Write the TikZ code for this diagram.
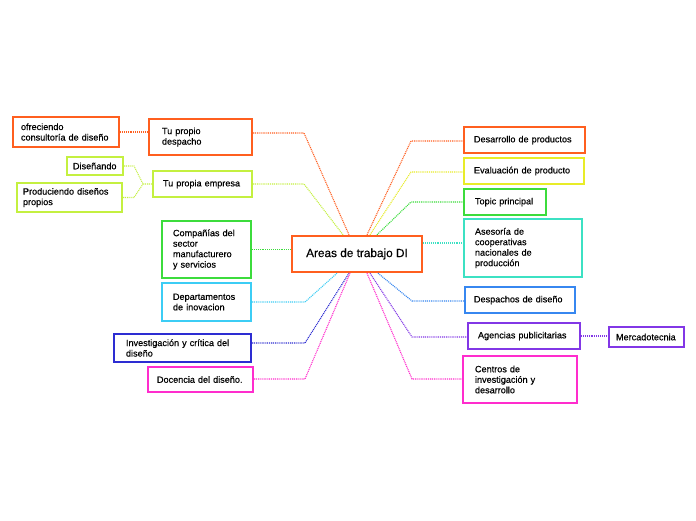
\documentclass[tikz,border=0pt]{standalone}
\usepackage{fontspec}
\setmainfont[FakeBold=0]{Liberation Sans}
\newfontfamily\boxfont[FakeBold=0.35]{Liberation Sans}
\definecolor{corange}{RGB}{255,95,31}
\definecolor{clime}{RGB}{196,240,64}
\definecolor{cyellow}{RGB}{232,236,40}
\definecolor{cgreen}{RGB}{60,220,60}
\definecolor{ccyan}{RGB}{60,205,245}
\definecolor{cteal}{RGB}{60,225,195}
\definecolor{cnavy}{RGB}{45,45,210}
\definecolor{cblue}{RGB}{55,135,240}
\definecolor{cpurple}{RGB}{130,55,230}
\definecolor{cmagenta}{RGB}{255,45,205}
\begin{document}
\begin{tikzpicture}[x=1pt,y=-1pt,
  box/.style={draw=#1, line width=2pt, rectangle, align=left, fill=white,
    font=\boxfont\fontsize{9.1}{10.5}\selectfont, inner ysep=0pt},
  link/.style={draw=#1, line width=1.1pt, dash pattern=on 1pt off 0.9pt}]
\fill[white] (0,0) rectangle (696,520);
\useasboundingbox (0,0) rectangle (696,520);

% central node
\node[draw=corange, line width=2.4pt, fill=white, minimum width=130pt, minimum height=36pt,
  font=\boxfont\fontsize{11.8}{13}\selectfont, inner sep=0pt] (c) at (357,254) {Areas de trabajo DI};

% left side
\node[box=corange, minimum width=103pt, minimum height=36pt, inner xsep=13pt, text width=77pt] (despacho) at (200.5,137) {Tu propio\\despacho};
\node[box=corange, minimum width=106pt, minimum height=30pt, inner xsep=8pt, text width=90pt] (consult) at (66,132) {ofreciendo\\consultoría de diseño};
\node[box=clime, minimum width=56pt, minimum height=18pt, inner xsep=6pt, text width=44pt] (disenando) at (95,166) {Diseñando};
\node[box=clime, minimum width=105pt, minimum height=29pt, inner xsep=6pt, text width=93pt] (produciendo) at (69.5,197.5) {Produciendo diseños\\propios};
\node[box=clime, minimum width=99pt, minimum height=26pt, inner xsep=10pt, text width=79pt] (empresa) at (202.5,184) {Tu propia empresa};
\node[box=cgreen, minimum width=89pt, minimum height=57pt, inner xsep=11pt, text width=67pt] (companias) at (206.5,249.5) {Compañías del\\sector\\manufacturero\\y servicios};
\node[box=ccyan, minimum width=89pt, minimum height=38pt, inner xsep=11pt, text width=67pt] (departamentos) at (206.5,302) {Departamentos\\de inovacion};
\node[box=cnavy, minimum width=137pt, minimum height=28pt, inner xsep=12pt, text width=113pt] (investigacion) at (182.5,348) {Investigación y crítica del\\diseño};
\node[box=cmagenta, minimum width=105pt, minimum height=25pt, inner xsep=9pt, text width=87pt] (docencia) at (200.5,379.5) {Docencia del diseño.};

% right side
\node[box=corange, minimum width=121pt, minimum height=26pt, inner xsep=10pt, text width=101pt] (desarrollo) at (524.5,140) {Desarrollo de productos};
\node[box=cyellow, minimum width=120pt, minimum height=26pt, inner xsep=10pt, text width=100pt] (evaluacion) at (524,171) {Evaluación de producto};
\node[box=cgreen, minimum width=82pt, minimum height=26pt, inner xsep=11pt, text width=60pt] (topic) at (505,202) {Topic principal};
\node[box=cteal, minimum width=118pt, minimum height=58pt, inner xsep=11pt, text width=96pt] (asesoria) at (523,248) {Asesoría de\\cooperativas\\nacionales de\\producción};
\node[box=cblue, minimum width=110pt, minimum height=26pt, inner xsep=9pt, text width=92pt] (despachos) at (520,300) {Despachos de diseño};
\node[box=cpurple, minimum width=112pt, minimum height=26pt, inner xsep=10pt, text width=92pt] (agencias) at (524,336) {Agencias publicitarias};
\node[box=cpurple, minimum width=75pt, minimum height=20pt, inner xsep=7pt, text width=61pt] (mercado) at (646.5,337) {Mercadotecnia};
\node[box=cmagenta, minimum width=114pt, minimum height=47pt, inner xsep=12pt, text width=90pt] (centros) at (520,379.5) {Centros de\\investigación y\\desarrollo};

% elbow coordinates
\coordinate (kdes) at (304,133);
\coordinate (kemp) at (304,184);
\coordinate (kdev) at (411,141);
\coordinate (keva) at (411,172);
\coordinate (ktop) at (411,202);
\coordinate (kase) at (430,243);
\coordinate (kdep) at (305,302);
\coordinate (kinv) at (305,343);
\coordinate (kdoc) at (305,379);
\coordinate (kdsp) at (412,301);
\coordinate (kage) at (412,337);
\coordinate (kcen) at (412,379);
\coordinate (kbr) at (143,184);

% connectors
\draw[link=corange] (despacho.east |- kdes) -- (kdes) -- ([xshift=-8pt]c.north);
\draw[link=clime] (empresa.east) -- (kemp) -- ([xshift=-14pt]c.north);
\draw[link=corange] (consult.east) -- (consult.east -| despacho.west);
\draw[link=clime] (disenando.east) -- ++(10,0) -- (kbr) -- (empresa.west);
\draw[link=clime] (produciendo.east) -- ++(11,0) -- (kbr);
\draw[link=cgreen] (companias.east) -- (companias.east -| c.west);
\draw[link=ccyan] (departamentos.east |- kdep) -- (kdep) -- ([xshift=-20pt]c.south);
\draw[link=cnavy] (investigacion.east |- kinv) -- (kinv) -- ([xshift=-8pt]c.south);
\draw[link=cmagenta] (docencia.east |- kdoc) -- (kdoc) -- ([xshift=-7pt]c.south);

\draw[link=corange] ([xshift=10pt]c.north) -- (kdev) -- (desarrollo.west |- kdev);
\draw[link=cyellow] ([xshift=13pt]c.north) -- (keva) -- (evaluacion.west |- keva);
\draw[link=cgreen] ([xshift=20pt]c.north) -- (ktop) -- (topic.west |- ktop);
\draw[link=cteal] (c.east |- kase) -- (asesoria.west |- kase);
\draw[link=cblue] ([xshift=21pt]c.south) -- (kdsp) -- (despachos.west |- kdsp);
\draw[link=cpurple] ([xshift=13pt]c.south) -- (kage) -- (agencias.west |- kage);
\draw[link=cpurple] (agencias.east) -- (agencias.east -| mercado.west);
\draw[link=cmagenta] ([xshift=10pt]c.south) -- (kcen) -- (centros.west |- kcen);
\end{tikzpicture}
\end{document}
